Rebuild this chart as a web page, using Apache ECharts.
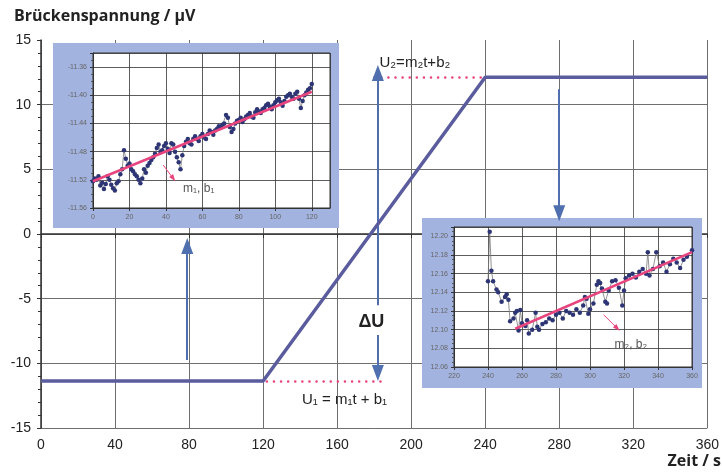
<!DOCTYPE html>
<html>
<head>
<meta charset="utf-8">
<script src="https://cdn.jsdelivr.net/npm/echarts@6/dist/echarts.min.js"></script>
<style>
  html, body { margin: 0; padding: 0; background: #fff; }
  #chart { width: 722px; height: 474px; }
</style>
</head>
<body>
<div id="chart"></div>
<script>
// Hauptkurve: Zeit / s, Brückenspannung / µV
const mainT = [0, 120, 240, 360];
const mainU = [-11.37, -11.37, 12.12, 12.12];

// Inset 1: Anfangsdrift (0..120 s)
const inset1T = [0, 1, 2, 3, 4, 5, 6, 7, 8, 9, 10, 11, 12, 13, 14, 15, 16, 17, 18, 19,
  20, 21, 22, 23, 24, 25, 26, 27, 28, 29, 30, 31, 32, 33, 34, 35, 36, 37, 38, 39,
  40, 41, 42, 43, 44, 45, 46, 47, 48, 49, 50, 51, 52, 53, 54, 55, 56, 57, 58, 59,
  60, 61, 62, 63, 64, 65, 66, 67, 68, 69, 70, 71, 72, 73, 74, 75, 76, 77, 78, 79,
  80, 81, 82, 83, 84, 85, 86, 87, 88, 89, 90, 91, 92, 93, 94, 95, 96, 97, 98, 99,
  100, 101, 102, 103, 104, 105, 106, 107, 108, 109, 110, 111, 112, 113, 114, 115, 116, 117, 118, 119, 120];
const inset1U = [-11.522, -11.518, -11.520, -11.515, -11.528, -11.524, -11.533, -11.526, -11.515, -11.520,
  -11.527, -11.532, -11.535, -11.525, -11.522, -11.512, -11.505, -11.478, -11.490, -11.500,
  -11.497, -11.505, -11.508, -11.512, -11.515, -11.520, -11.525, -11.518, -11.505, -11.510,
  -11.500, -11.496, -11.492, -11.488, -11.483, -11.475, -11.470, -11.480, -11.478, -11.472,
  -11.468, -11.476, -11.482, -11.468, -11.470, -11.480, -11.488, -11.495, -11.505, -11.485,
  -11.472, -11.466, -11.462, -11.468, -11.470, -11.462, -11.458, -11.462, -11.465, -11.458,
  -11.455, -11.460, -11.462, -11.455, -11.450, -11.452, -11.456, -11.450, -11.448, -11.444,
  -11.445, -11.442, -11.440, -11.428, -11.432, -11.445, -11.452, -11.448, -11.440, -11.436,
  -11.435, -11.432, -11.438, -11.434, -11.430, -11.428, -11.425, -11.430, -11.432, -11.424,
  -11.420, -11.423, -11.425, -11.420, -11.418, -11.414, -11.412, -11.416, -11.420, -11.414,
  -11.410, -11.407, -11.405, -11.410, -11.415, -11.408, -11.402, -11.400, -11.398, -11.402,
  -11.405, -11.398, -11.395, -11.405, -11.418, -11.408, -11.400, -11.396, -11.392, -11.390, -11.384];
const fit1T = [0, 120];
const fit1U = [-11.522, -11.395];

// Inset 2: Enddrift (240..360 s)
const inset2T = [240, 241, 242, 243, 245, 246, 248, 250, 251, 252, 253, 255, 256, 257, 258, 259, 260,
  262, 263, 264, 266, 268, 269, 270, 272, 274, 276, 278, 280, 282, 284, 286, 288, 290, 292, 294,
  296, 297, 298, 299, 300, 302, 304, 305, 306, 307, 309, 310, 311, 313, 315, 317, 319, 320, 321,
  323, 325, 327, 329, 331, 333, 334, 335, 337, 339, 341, 343, 345, 347, 349, 351, 353, 355, 357, 360];
const inset2U = [12.152, 12.205, 12.163, 12.152, 12.143, 12.140, 12.130, 12.135, 12.138, 12.132, 12.109,
  12.112, 12.118, 12.120, 12.099, 12.121, 12.107, 12.104, 12.110, 12.096, 12.100, 12.118, 12.103,
  12.100, 12.106, 12.108, 12.112, 12.110, 12.116, 12.118, 12.112, 12.120, 12.118, 12.116, 12.122,
  12.118, 12.126, 12.135, 12.133, 12.117, 12.122, 12.128, 12.148, 12.152, 12.150, 12.144, 12.130,
  12.128, 12.142, 12.152, 12.153, 12.145, 12.126, 12.142, 12.155, 12.158, 12.160, 12.156, 12.162,
  12.165, 12.160, 12.183, 12.158, 12.165, 12.183, 12.168, 12.172, 12.162, 12.170, 12.176, 12.172,
  12.166, 12.175, 12.178, 12.185];
const fit2T = [256, 360];
const fit2U = [12.101, 12.183];

// Annotationen (in Achsenkoordinaten)
const dotLow = [[122, -11.37], [184, -11.37]];
const dotHigh = [[180, 12.12], [238, 12.12]];
const arrows = [
  [[182, -5.5], [182, 12.45]],
  [[182, -7.8], [182, -10.75]],
  [[79, -9.75], [79, -0.93]],
  [[280, 11.2], [280, 1.6]]
];
const arrow1 = [[38.5, -11.499], [44, -11.518]];
const arrow2 = [[308, 12.116], [316, 12.1015]];

const zip = (a, b) => a.map((v, i) => [v, b[i]]);

const BLUE_LINE = '#5a5c9e';
const ARROW = '#4f6fae';
const PINK = '#e8457f';
const DOT = '#2d3575';
const FONT = 'Liberation Sans';

const chart = echarts.init(document.getElementById('chart'));

function insetAxisLabel() {
  return { fontSize: 7, color: '#666', fontFamily: FONT, margin: 6, showMaxLabel: false };
}

const arrowLines = arrows.map(([a, b]) => [
  { coord: a, symbol: 'none', lineStyle: { color: ARROW, width: 2, type: 'solid' } },
  { coord: b, symbol: 'triangle', symbolSize: [12, 16] }
]);
const dottedLines = [dotLow, dotHigh].map(([a, b]) => [
  { coord: a, symbol: 'none', lineStyle: { color: PINK, width: 2.5, type: [0.1, 7], cap: 'round' } },
  { coord: b, symbol: 'none' }
]);

function textPoint(coord, text, style) {
  return {
    coord,
    symbol: 'rect',
    symbolSize: 1,
    itemStyle: { color: 'rgba(0,0,0,0)' },
    label: Object.assign({ show: true, position: 'inside', formatter: text, fontFamily: FONT, color: '#222' }, style)
  };
}

const option = {
  animation: false,
  title: {
    text: 'Brückenspannung / µV',
    left: 9, top: 3,
    textStyle: { fontSize: 16, fontWeight: 'bold', fontFamily: 'Open Sans', color: '#222' }
  },
  graphic: [
    { type: 'rect', z: 1, shape: { x: 53, y: 43, width: 286, height: 185 }, style: { fill: '#a3b3df' } },
    { type: 'rect', z: 1, shape: { x: 422, y: 218, width: 280, height: 170 }, style: { fill: '#a3b3df' } },
    { type: 'text', z: 1, right: 1, top: 453, style: { text: 'Zeit / s', fontSize: 16, fontWeight: 'bold', fontFamily: 'Open Sans', fill: '#222' } }
  ],
  grid: [
    { left: 41, right: 12, top: 40, bottom: 46 },
    { left: 93, top: 53, width: 237, height: 155, show: true, backgroundColor: '#fff', borderColor: '#333', borderWidth: 1, z: 2 },
    { left: 454, top: 227, width: 238, height: 140, show: true, backgroundColor: '#fff', borderColor: '#333', borderWidth: 1, z: 2 }
  ],
  xAxis: [
    {
      gridIndex: 0, type: 'value', min: 0, max: 360, interval: 40, z: 0,
      axisLine: { lineStyle: { color: '#333', width: 1.5 } },
      axisTick: { show: true, length: 4, lineStyle: { color: '#333' } },
      axisLabel: { fontSize: 14, color: '#222', fontFamily: FONT, margin: 10 },
      splitLine: { show: true, lineStyle: { color: '#6f6f6f', width: 1 } }
    },
    {
      gridIndex: 1, type: 'value', min: 0, max: 130, interval: 20, z: 3,
      axisLine: { lineStyle: { color: '#333', width: 1 } },
      axisTick: { show: true, length: 3, lineStyle: { color: '#333' } },
      axisLabel: insetAxisLabel(),
      splitLine: { show: true, lineStyle: { color: '#333', width: 0.8 } }
    },
    {
      gridIndex: 2, type: 'value', min: 220, max: 360, interval: 20, z: 3,
      axisLine: { lineStyle: { color: '#333', width: 1 } },
      axisTick: { show: true, length: 3, lineStyle: { color: '#333' } },
      axisLabel: Object.assign(insetAxisLabel(), { showMaxLabel: true }),
      splitLine: { show: true, lineStyle: { color: '#333', width: 0.8 } }
    }
  ],
  yAxis: [
    {
      gridIndex: 0, type: 'value', min: -15, max: 15, interval: 5, z: 0,
      axisLine: { show: true, lineStyle: { color: '#333', width: 1.5 } },
      axisTick: { show: true, length: 4, lineStyle: { color: '#333' } },
      minorTick: { show: true, splitNumber: 5, length: 3, lineStyle: { color: '#333' } },
      axisLabel: { fontSize: 14, color: '#222', fontFamily: FONT, margin: 10 },
      splitLine: { show: true, showMaxLine: false, lineStyle: { color: '#6f6f6f', width: 1 } }
    },
    {
      gridIndex: 1, type: 'value', min: -11.56, max: -11.34, interval: 0.04, z: 3,
      axisLine: { show: true, lineStyle: { color: '#333', width: 1 } },
      axisTick: { show: true, length: 3, lineStyle: { color: '#333' } },
      minorTick: { show: true, splitNumber: 4, length: 2, lineStyle: { color: '#555' } },
      axisLabel: Object.assign(insetAxisLabel(), { formatter: v => v.toFixed(2) }),
      splitLine: { show: true, lineStyle: { color: '#333', width: 0.8 } }
    },
    {
      gridIndex: 2, type: 'value', min: 12.06, max: 12.21, interval: 0.02, z: 3,
      axisLine: { show: true, lineStyle: { color: '#333', width: 1 } },
      axisTick: { show: true, length: 3, lineStyle: { color: '#333' } },
      minorTick: { show: true, splitNumber: 4, length: 2, lineStyle: { color: '#555' } },
      axisLabel: Object.assign(insetAxisLabel(), { formatter: v => v.toFixed(2) }),
      splitLine: { show: true, lineStyle: { color: '#333', width: 0.8 } }
    }
  ],
  series: [
    {
      type: 'line', xAxisIndex: 0, yAxisIndex: 0, z: 5,
      data: zip(mainT, mainU),
      symbol: 'none',
      lineStyle: { color: BLUE_LINE, width: 3.5 },
      markLine: {
        silent: true,
        animation: false,
        label: { show: false },
        itemStyle: { color: ARROW },
        data: dottedLines.concat(arrowLines)
      },
      markPoint: {
        silent: true,
        animation: false,
        data: [
          textPoint([202, 13.2], 'U₂=m₂t+b₂', { fontSize: 15 }),
          textPoint([178.5, -6.8], 'ΔU', { fontSize: 18, fontWeight: 'bold' }),
          textPoint([164, -12.85], 'U₁ = m₁t + b₁', { fontSize: 15 })
        ]
      }
    },
    {
      type: 'line', xAxisIndex: 1, yAxisIndex: 1, z: 4,
      data: zip(inset1T, inset1U),
      symbol: 'circle', symbolSize: 4.5, showAllSymbol: true,
      itemStyle: { color: DOT },
      lineStyle: { color: '#777', width: 0.8 }
    },
    {
      type: 'line', xAxisIndex: 1, yAxisIndex: 1, z: 5,
      data: zip(fit1T, fit1U),
      symbol: 'none',
      lineStyle: { color: PINK, width: 2.5 },
      markLine: {
        silent: true, animation: false, label: { show: false },
        itemStyle: { color: PINK },
        data: [[
          { coord: arrow1[0], symbol: 'none', lineStyle: { color: PINK, width: 1, type: 'solid' } },
          { coord: arrow1[1], symbol: 'triangle', symbolSize: [5, 7] }
        ]]
      },
      markPoint: {
        silent: true, animation: false,
        data: [textPoint([58, -11.532], 'm₁, b₁', { fontSize: 12, color: '#555' })]
      }
    },
    {
      type: 'line', xAxisIndex: 2, yAxisIndex: 2, z: 4,
      data: zip(inset2T, inset2U),
      symbol: 'circle', symbolSize: 4.5, showAllSymbol: true,
      itemStyle: { color: DOT },
      lineStyle: { color: '#777', width: 0.8 }
    },
    {
      type: 'line', xAxisIndex: 2, yAxisIndex: 2, z: 5,
      data: zip(fit2T, fit2U),
      symbol: 'none',
      lineStyle: { color: PINK, width: 2.5 },
      markLine: {
        silent: true, animation: false, label: { show: false },
        itemStyle: { color: PINK },
        data: [[
          { coord: arrow2[0], symbol: 'none', lineStyle: { color: PINK, width: 1, type: 'solid' } },
          { coord: arrow2[1], symbol: 'triangle', symbolSize: [5, 7] }
        ]]
      },
      markPoint: {
        silent: true, animation: false,
        data: [textPoint([324, 12.0835], 'm₂, b₂', { fontSize: 12, color: '#555' })]
      }
    }
  ]
};

chart.setOption(option);
</script>
</body>
</html>
